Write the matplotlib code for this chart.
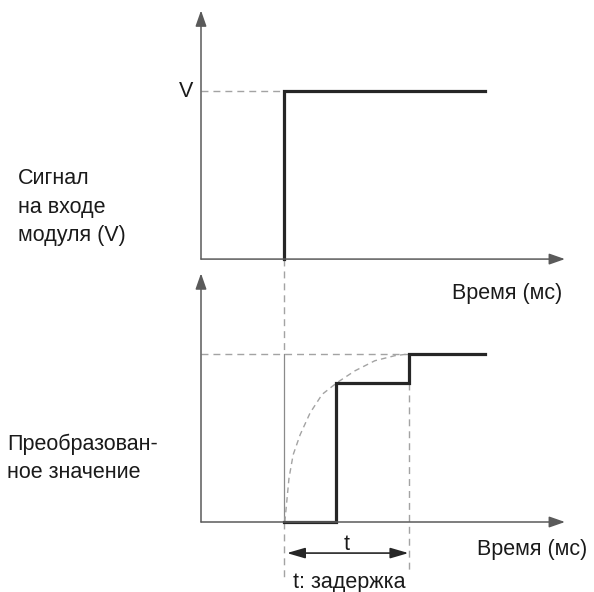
import matplotlib
matplotlib.use("Agg")
import matplotlib.pyplot as plt

plt.rcParams['font.family'] = ['Liberation Sans', 'DejaVu Sans']
plt.rcParams['lines.scale_dashes'] = False

# Time axis (arbitrary units) and normalised signal level
t_input_step = 2.0          # moment the input jumps to V
t_line_end = 6.85           # where the plotted signals stop
t_axis_end = 8.77           # length of the time axes
y_axis_len = 1.48           # length of the value axes
level_v = 1.0

# Converted value: held at each level from the given time on
conv_times = [2.0, 3.25, 5.0]
conv_levels = [0.0, 0.83, 1.0]

# Ideal (analogue) response of the converter, dashed curve
ideal_t = [2.02, 2.12, 2.22, 2.39, 2.63, 2.92, 3.28, 3.71, 4.19, 4.67, 5.0]
ideal_y = [0.0, 0.26, 0.40, 0.52, 0.65, 0.76, 0.83, 0.90, 0.96, 0.99, 1.0]

top_base = 1.565            # baseline of the upper panel

AXIS = '#5a5a5a'
SIGNAL = '#262626'
GUIDE = '#a3a3a3'
TEXT = '#1a1a1a'
DASH = (0, (5.0, 3.6))
FS = 15.5

fig = plt.figure(figsize=(5.94, 5.92), dpi=100)
ax = fig.add_axes([0, 0, 1, 1])
ax.set_xlim(-201 / 41.5, 393 / 41.5)
ax.set_ylim(-70 / 168, 522 / 168)
ax.axis('off')

head = dict(arrowstyle='-|>,head_length=0.4,head_width=0.14', color=AXIS,
            lw=1.1, mutation_scale=24, shrinkA=0, shrinkB=0)


def draw_axes(base):
    ax.annotate('', xy=(t_axis_end, base), xytext=(0, base), arrowprops=head)
    ax.annotate('', xy=(0, base + y_axis_len), xytext=(0, base), arrowprops=head)


draw_axes(top_base)
draw_axes(0.0)

# guides
ax.plot([0, t_input_step], [top_base + level_v] * 2, color=GUIDE, lw=1.0, ls=DASH)
ax.plot([0, conv_times[-1]], [level_v] * 2, color=GUIDE, lw=1.0, ls=DASH)
ax.plot([t_input_step] * 2, [top_base, level_v], color=GUIDE, lw=1.0, ls=DASH)
ax.plot([t_input_step] * 2, [0, -0.335], color=GUIDE, lw=1.0, ls=DASH)
ax.plot([t_input_step] * 2, [level_v, 0], color='#8a8a8a', lw=0.9)
ax.plot([conv_times[-1]] * 2, [conv_levels[1], -0.3], color=GUIDE, lw=1.0, ls=DASH)
ax.plot(ideal_t, ideal_y, color=GUIDE, lw=1.0, ls=(0, (4.0, 3.0)))

# input step
ax.plot([t_input_step, t_input_step, t_line_end],
        [top_base, top_base + level_v, top_base + level_v],
        color=SIGNAL, lw=2.3, solid_joinstyle='miter')

# converted value
ax.plot(conv_times + [t_line_end], conv_levels + [conv_levels[-1]],
        drawstyle='steps-post', color=SIGNAL, lw=2.3, solid_joinstyle='miter')

# delay
ax.annotate('', xy=(conv_times[-1], -0.185), xytext=(t_input_step + 0.07, -0.185),
            arrowprops=dict(arrowstyle='<|-|>,head_length=0.55,head_width=0.16',
                            color=SIGNAL, lw=1.2, mutation_scale=20,
                            shrinkA=0, shrinkB=0))
ax.text((t_input_step + conv_times[-1]) / 2, -0.135, 't', ha='center', va='center',
        fontsize=FS, color=TEXT)
ax.text(t_input_step + 0.22, -0.363, 't: задержка', ha='left', va='center',
        fontsize=FS, color=TEXT)

ax.text(-0.18, top_base + level_v, 'V', ha='right', va='center', fontsize=FS, color=TEXT)

fig.text(452 / 594, 1 - 293 / 592, 'Время (мс)', ha='left', va='center', fontsize=FS, color=TEXT)
fig.text(477 / 594, 1 - 550 / 592, 'Время (мс)', ha='left', va='center', fontsize=FS, color=TEXT)
fig.text(18 / 594, 1 - 207 / 592, 'Сигнал\nна входе\nмодуля (V)', ha='left', va='center',
         fontsize=FS, linespacing=1.48, color=TEXT)
fig.text(7 / 594, 1 - 458.5 / 592, 'Преобразован-\nное значение', ha='left', va='center',
         fontsize=FS, linespacing=1.48, color=TEXT)

fig.savefig('out.png', dpi=100)
